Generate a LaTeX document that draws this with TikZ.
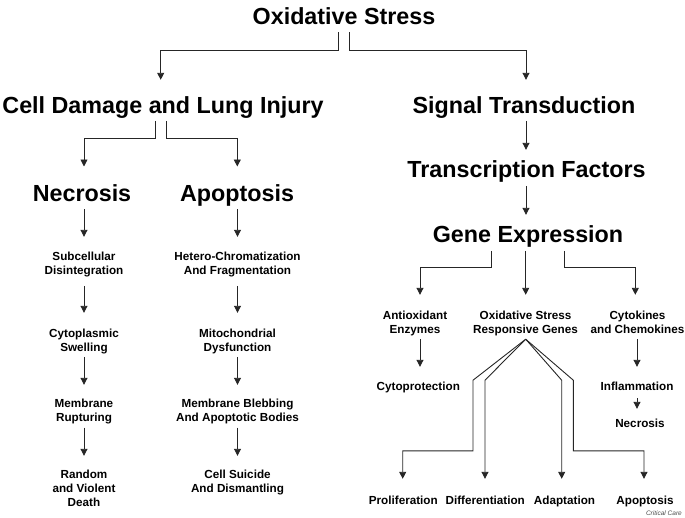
\documentclass[tikz,border=0pt]{standalone}
\usepackage{fontspec}
\setmainfont{Liberation Sans}
\usetikzlibrary{arrows.meta}
\newcommand{\stk}[1]{\begin{tabular}[t]{@{}c@{}}#1\end{tabular}}
\begin{document}
\begin{tikzpicture}[x=1pt,y=-1pt,
  title/.style={font=\fontsize{23.3}{28}\selectfont\bfseries, inner sep=0pt, text height=17pt, text depth=5pt, anchor=base},
  sm/.style={font=\fontsize{11.7}{14}\selectfont\bfseries, inner sep=0pt, anchor=base},
  ln/.style={draw=black!85, line width=0.9pt},
  arr/.style={ln, -{Triangle[length=7pt,width=7pt]}}]
\useasboundingbox (0,0) rectangle (685,517);
% titles
\node[title] (os)  at (344,24)  {Oxidative Stress};
\node[title] (cd)  at (163,113) {Cell Damage and Lung Injury};
\node[title] (st)  at (524,113) {Signal Transduction};
\node[title] (tf)  at (526.5,177) {Transcription Factors};
\node[title] (ge)  at (528,242) {Gene Expression};
\node[title] (nec) at (82,201)  {Necrosis};
\node[title] (apo) at (237,201) {Apoptosis};
% left column
\node[sm] (n1) at (84,260)   {\stk{Subcellular\\Disintegration}};
\node[sm] (n2) at (84,337)   {\stk{Cytoplasmic\\Swelling}};
\node[sm] (n3) at (84,407.3) {\stk{Membrane\\Rupturing}};
\node[sm] (n4) at (84,478)   {\stk{Random\\and Violent\\Death}};
\node[sm] (a1) at (237.5,260)   {\stk{Hetero-Chromatization\\And Fragmentation}};
\node[sm] (a2) at (237.5,337)   {\stk{Mitochondrial\\Dysfunction}};
\node[sm] (a3) at (237.5,407.3) {\stk{Membrane Blebbing\\And Apoptotic Bodies}};
\node[sm] (a4) at (237.5,478)   {\stk{Cell Suicide\\And Dismantling}};
% right side
\node[sm] (ae)   at (415,319)   {\stk{Antioxidant\\Enzymes}};
\node[sm] (osrg) at (525.5,319) {\stk{Oxidative Stress\\Responsive Genes}};
\node[sm] (ck)   at (637.5,319) {\stk{Cytokines\\and Chemokines}};
\node[sm] (cp)   at (418.3,390) {\stk{Cytoprotection}};
\node[sm] (inf)  at (637,390)   {\stk{Inflammation}};
\node[sm] (nec2) at (640,427)   {\stk{Necrosis}};
\node[sm] (pro)  at (403.3,504) {\stk{Proliferation}};
\node[sm] (dif)  at (485.2,504) {\stk{Differentiation}};
\node[sm] (ada)  at (564.5,504) {\stk{Adaptation}};
\node[sm] (apo2) at (645,504)   {\stk{Apoptosis}};
\node[font=\fontsize{6.5}{8}\selectfont\itshape, text=black!70, inner sep=0pt, anchor=base east] (cc) at (682,515) {Critical Care};
% connectors: top
\draw[arr] ([xshift=-5.5pt,yshift=-3pt]os.south) -- ++(0,18) -| ([xshift=-2.3pt,yshift=16pt]cd.north);
\draw[arr] ([xshift=5.5pt,yshift=-3pt]os.south) -- ++(0,18) -| ([xshift=2pt,yshift=16pt]st.north);
% cell damage branches
\draw[arr] ([xshift=-8pt,yshift=-2.7pt]cd.south) -- ++(0,17.6) -| ([xshift=2pt,yshift=17.3pt]nec.north);
\draw[arr] ([xshift=3pt,yshift=-2.7pt]cd.south) -- ++(0,17.6) -| ([xshift=0.3pt,yshift=17.3pt]apo.north);
% signal chain
\draw[arr] ([xshift=2pt,yshift=-2.7pt]st.south) -- ([xshift=-0.5pt,yshift=10pt]tf.north);
\draw[arr] ([xshift=-0.5pt,yshift=-3.7pt]tf.south) -- ([xshift=-2pt,yshift=10pt]ge.north);
% gene expression branches
\draw[arr] ([xshift=-37pt,yshift=-3.7pt]ge.south) -- ++(0,17) -| ([xshift=5pt,yshift=14.2pt]ae.north);
\draw[arr] ([xshift=-2.3pt,yshift=-3.7pt]ge.south) -- ([xshift=0.2pt,yshift=14.2pt]osrg.north);
\draw[arr] ([xshift=36.7pt,yshift=-3.7pt]ge.south) -- ++(0,17) -| ([xshift=-2.2pt,yshift=14.2pt]ck.north);
% necrosis column
\draw[arr] ([xshift=2pt,yshift=-3pt]nec.south) -- ([yshift=13.2pt]n1.north);
\draw[arr] ([yshift=-7.5pt]n1.south) -- ([yshift=14.2pt]n2.north);
\draw[arr] ([yshift=-1.5pt]n2.south) -- ([yshift=12.5pt]n3.north);
\draw[arr] ([yshift=-1.8pt]n3.south) -- ([yshift=12.2pt]n4.north);
% apoptosis column
\draw[arr] ([xshift=0.5pt,yshift=-3pt]apo.south) -- ([yshift=13.2pt]a1.north);
\draw[arr] ([yshift=-7.5pt]a1.south) -- ([yshift=14.2pt]a2.north);
\draw[arr] ([yshift=-1.5pt]a2.south) -- ([yshift=12.5pt]a3.north);
\draw[arr] ([yshift=-1.8pt]a3.south) -- ([yshift=12.2pt]a4.north);
% right small chains
\draw[arr] ([xshift=5pt,yshift=-1.8pt]ae.south) -- ([xshift=1.7pt,yshift=13.2pt]cp.north);
\draw[arr] ([xshift=-0.5pt,yshift=-1.8pt]ck.south) -- ([yshift=13.2pt]inf.north);
\draw[arr] ([yshift=-3.8pt]inf.south) -- ([xshift=-3pt,yshift=8.2pt]nec2.north);
% fan from responsive genes
\draw[arr] ([xshift=0.2pt,yshift=-1.8pt]osrg.south) -- ++(-52.7,41) -- ++(0,70.7) -| ([xshift=-0.6pt,yshift=15.2pt]pro.north);
\draw[arr] ([xshift=0.2pt,yshift=-1.8pt]osrg.south) -- ++(-40.7,41) -- ([xshift=-0.2pt,yshift=15.2pt]dif.north);
\draw[arr] ([xshift=0.2pt,yshift=-1.8pt]osrg.south) -- ++(36,41) -- ([xshift=-2.8pt,yshift=15.2pt]ada.north);
\draw[arr] ([xshift=0.2pt,yshift=-1.8pt]osrg.south) -- ++(47.6,41) -- ++(0,70.7) -| ([xshift=-1pt,yshift=15.2pt]apo2.north);
\end{tikzpicture}
\end{document}
